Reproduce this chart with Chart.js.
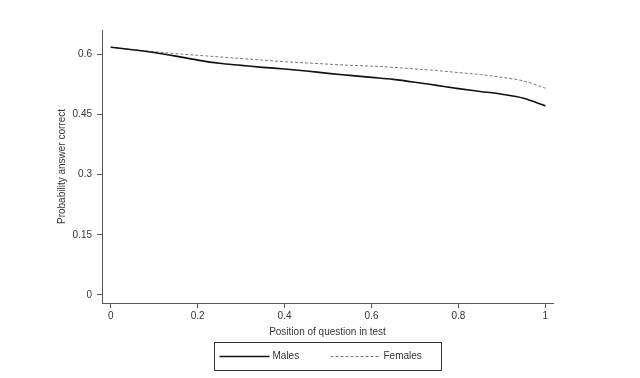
<!DOCTYPE html>
<html>
<head>
<meta charset="utf-8">
<script src="https://cdn.jsdelivr.net/npm/chart.js@4.4.1/dist/chart.umd.min.js"></script>
<style>
  html, body { margin: 0; padding: 0; background: #fff; }
  #c { display: block; }
</style>
</head>
<body>
<canvas id="c" width="640" height="378"></canvas>
<script>
const positions   = [0, 0.05, 0.1, 0.15, 0.2, 0.25, 0.3, 0.35, 0.4, 0.45, 0.5, 0.55, 0.6, 0.65, 0.7, 0.75, 0.8, 0.85, 0.9, 0.95, 1.0];
const malesProb   = [0.617, 0.611, 0.604, 0.595, 0.585, 0.577, 0.572, 0.567, 0.563, 0.558, 0.552, 0.547, 0.542, 0.537, 0.530, 0.522, 0.514, 0.507, 0.500, 0.490, 0.471];
const femalesProb = [0.617, 0.611, 0.606, 0.601, 0.597, 0.593, 0.589, 0.585, 0.581, 0.578, 0.575, 0.572, 0.570, 0.567, 0.563, 0.559, 0.554, 0.549, 0.542, 0.533, 0.515];
const xTicks = [0, 0.2, 0.4, 0.6, 0.8, 1];
const yTicks = [0, 0.15, 0.3, 0.45, 0.6];
const seriesNames = ['Males', 'Females'];
const xTitle = 'Position of question in test';
const yTitle = 'Probability answer correct';

const FONT = '"Liberation Sans", Arial, Helvetica, sans-serif';
const AXIS_COLOR = '#555';
const TEXT_COLOR = '#333';

const boxLegend = {
  id: 'boxLegend',
  afterDraw(chart) {
    const ctx = chart.ctx;
    const ca = chart.chartArea;
    const cx = (ca.left + ca.right) / 2;
    const w = 227, h = 28;
    const x0 = Math.round(cx - w / 2) + 0.5;
    const y0 = chart.height - 36 + 0.5;
    ctx.save();
    ctx.strokeStyle = '#333';
    ctx.lineWidth = 1;
    ctx.strokeRect(x0, y0, w, h);
    const yMid = y0 + h / 2;
    ctx.font = '10px ' + FONT;
    ctx.fillStyle = TEXT_COLOR;
    ctx.textBaseline = 'middle';
    ctx.textAlign = 'left';
    chart.data.datasets.forEach((ds, i) => {
      const lx = x0 + 5 + i * 111;
      ctx.beginPath();
      ctx.strokeStyle = ds.borderColor;
      ctx.lineWidth = ds.borderWidth;
      ctx.setLineDash(ds.borderDash || []);
      ctx.moveTo(lx, yMid);
      ctx.lineTo(lx + 50, yMid);
      ctx.stroke();
      ctx.setLineDash([]);
      ctx.fillText(ds.label, lx + 53, yMid);
    });
    ctx.restore();
  }
};

new Chart(document.getElementById('c'), {
  type: 'line',
  data: {
    datasets: [
      {
        label: seriesNames[0],
        data: positions.map((p, i) => ({ x: p, y: malesProb[i] })),
        borderColor: '#111',
        borderWidth: 1.6,
        pointRadius: 0,
        fill: false,
        cubicInterpolationMode: 'monotone'
      },
      {
        label: seriesNames[1],
        data: positions.map((p, i) => ({ x: p, y: femalesProb[i] })),
        borderColor: '#777',
        borderWidth: 1,
        borderDash: [3, 2],
        pointRadius: 0,
        fill: false,
        cubicInterpolationMode: 'monotone'
      }
    ]
  },
  options: {
    responsive: false,
    animation: false,
    layout: { padding: { left: 0, right: 87, top: 30, bottom: 39 } },
    plugins: {
      legend: { display: false },
      tooltip: { enabled: false }
    },
    scales: {
      x: {
        type: 'linear',
        min: -0.02,
        max: 1.0175,
        afterBuildTicks: (s) => { s.ticks = xTicks.map(v => ({ value: v })); },
        afterFit: (s) => { s.height = 36; },
        grid: { display: true, drawOnChartArea: false, drawTicks: true, tickLength: 5, color: AXIS_COLOR },
        border: { display: true, color: AXIS_COLOR, width: 1 },
        ticks: {
          padding: 2,
          maxRotation: 0,
          autoSkip: false,
          color: TEXT_COLOR,
          font: { family: FONT, size: 10 },
          callback: (v) => String(v)
        },
        title: {
          display: true,
          text: xTitle,
          color: TEXT_COLOR,
          font: { family: FONT, size: 10 },
          padding: { top: 0, bottom: 1 }
        }
      },
      y: {
        type: 'linear',
        min: -0.02,
        max: 0.66,
        afterBuildTicks: (s) => { s.ticks = yTicks.map(v => ({ value: v })); },
        afterFit: (s) => { s.width = 102; },
        grid: { display: true, drawOnChartArea: false, drawTicks: true, tickLength: 5, color: AXIS_COLOR },
        border: { display: true, color: AXIS_COLOR, width: 1 },
        ticks: {
          padding: 5,
          autoSkip: false,
          color: TEXT_COLOR,
          font: { family: FONT, size: 10 },
          callback: (v) => String(v)
        },
        title: {
          display: true,
          text: yTitle,
          color: TEXT_COLOR,
          font: { family: FONT, size: 10 },
          padding: { top: 56, bottom: 0 }
        }
      }
    }
  },
  plugins: [boxLegend]
});
</script>
</body>
</html>
